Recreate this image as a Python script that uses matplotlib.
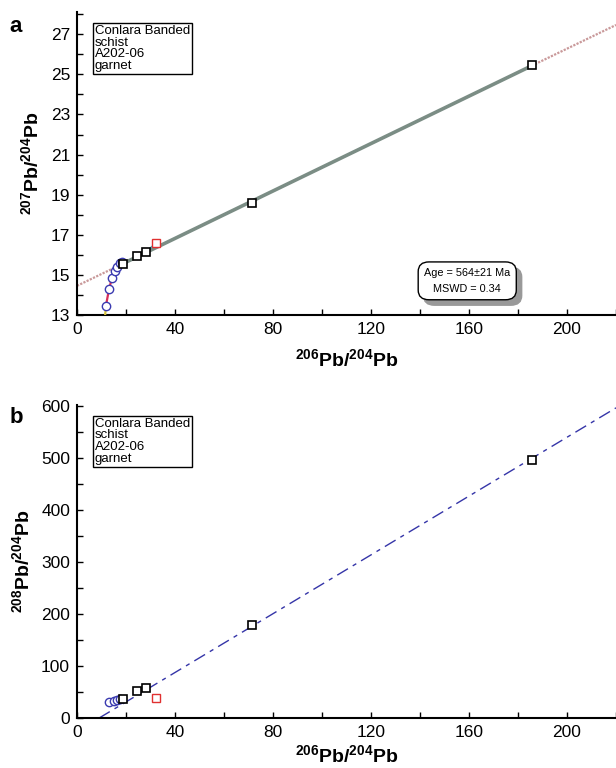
import numpy as np
import matplotlib
matplotlib.use("Agg")
import matplotlib.pyplot as plt
from matplotlib.ticker import MultipleLocator
from matplotlib.patches import FancyBboxPatch

plt.rcParams['font.family'] = ['Liberation Sans', 'DejaVu Sans']
plt.rcParams['mathtext.fontset'] = 'custom'
plt.rcParams['mathtext.rm'] = 'Liberation Sans'
plt.rcParams['mathtext.bf'] = 'Liberation Sans:bold'

# ---------------- data ----------------
# panel a: 207Pb/204Pb vs 206Pb/204Pb
sq_x = [18.8, 24.4, 28.2, 71.3, 185.6]
sq_y_a = [15.55, 15.92, 16.15, 18.60, 25.45]
red_x = [32.2]
red_y_a = [16.58]
circ_x = [11.8, 13.1, 14.3, 15.5, 16.5, 17.6, 18.5]
circ_y_a = [13.45, 14.30, 14.85, 15.18, 15.38, 15.58, 15.66]
tail_x = [11.5, 11.8]
tail_y = [13.0, 13.45]

# panel b: 208Pb/204Pb vs 206Pb/204Pb
sq_y_b = [37, 52, 58, 180, 497]
red_y_b = [38]
circ_x_b = [13.2, 15.2, 16.4, 17.6]
circ_y_b = [31, 33, 35, 37]
line_b_x = [9.0, 220]
line_b_y = [0, 597]

sample_text = "Conlara Banded\nschist\nA202-06\ngarnet"
age_text = "Age = 564\u00b121 Ma\nMSWD = 0.34"

xlabel = r'$\mathbf{^{206}Pb/^{204}Pb}$'
ylabel_a = r'$\mathbf{^{207}Pb/^{204}Pb}$'
ylabel_b = r'$\mathbf{^{208}Pb/^{204}Pb}$'

# ---------------- figure ----------------
fig = plt.figure(figsize=(6.16, 7.68), dpi=100)
axA = fig.add_axes([0.125, 0.590, 0.875, 0.394])
axB = fig.add_axes([0.125, 0.065, 0.875, 0.408])

for ax in (axA, axB):
    for s in ('top', 'right'):
        ax.spines[s].set_visible(False)
    ax.spines['left'].set_linewidth(1.5)
    ax.spines['bottom'].set_linewidth(1.5)
    ax.tick_params(which='both', direction='in', labelsize=12.5)
    ax.tick_params(which='major', length=4, width=1, pad=5)
    ax.tick_params(which='minor', length=4, width=1)
    ax.set_xlim(0, 220)
    ax.xaxis.set_major_locator(MultipleLocator(40))
    ax.xaxis.set_minor_locator(MultipleLocator(20))

axA.set_xlabel(xlabel, fontsize=14, labelpad=8)
axB.set_xlabel(xlabel, fontsize=14, labelpad=3)

# ---- panel a ----
fit = np.polyfit(sq_x, sq_y_a, 1)
xx_in = np.array([sq_x[0], sq_x[-1]])
axA.plot([0, sq_x[0]], np.polyval(fit, [0, sq_x[0]]), color='#c9999a', lw=1.6, ls=(0, (1, 0.6)), zorder=2)
axA.plot([sq_x[-1], 220], np.polyval(fit, [sq_x[-1], 220]), color='#c9999a', lw=1.6, ls=(0, (1, 0.6)), zorder=2)
axA.plot(xx_in, np.polyval(fit, xx_in), color='#7b8d85', lw=2.6, zorder=3)
axA.plot([sq_x[2], red_x[0]], [sq_y_a[2], red_y_a[0]], color='#3fa6b8', lw=1.2, zorder=3)
axA.plot(tail_x, tail_y, color='#d6c23a', lw=1.6, zorder=3)
axA.plot(circ_x, circ_y_a, color='#d8305a', lw=1.6, zorder=3)
axA.plot(circ_x, circ_y_a, 'o', ms=6, mfc='white', mec='#3a3ab0', mew=1.0, zorder=4)
axA.errorbar(sq_x, sq_y_a, xerr=0.8, yerr=0.12, fmt='none', ecolor='#3a3a90', elinewidth=0.8, zorder=4)
axA.plot(sq_x, sq_y_a, 's', ms=6, mfc='white', mec='black', mew=1.2, zorder=5)
axA.plot(red_x, red_y_a, 's', ms=6, mfc='white', mec='#e03030', mew=1.0, zorder=5)

axA.set_ylim(13, 28.1)
axA.yaxis.set_minor_locator(MultipleLocator(1))
axA.set_yticks(np.arange(13, 28, 2))
axA.set_ylabel(ylabel_a, fontsize=14, labelpad=6)

axA.text(0.033, 0.958, sample_text, transform=axA.transAxes, fontsize=9.5,
         va='top', ha='left', linespacing=0.95,
         bbox=dict(boxstyle='square,pad=0.15', fc='white', ec='black', lw=1.0))

# age box with shadow
bx, by, bw, bh = 0.633, 0.050, 0.182, 0.125
shadow = FancyBboxPatch((bx + 0.010, by - 0.018), bw, bh, transform=axA.transAxes,
                        boxstyle='round,pad=0,rounding_size=0.02', fc='#999999', ec='#999999',
                        lw=1.0, zorder=6, clip_on=False, mutation_aspect=1.6)
box = FancyBboxPatch((bx, by), bw, bh, transform=axA.transAxes,
                     boxstyle='round,pad=0,rounding_size=0.02', fc='white', ec='black',
                     lw=1.0, zorder=7, clip_on=False, mutation_aspect=1.6)
axA.add_patch(shadow)
axA.add_patch(box)
axA.text(bx + bw / 2, by + bh / 2, age_text, transform=axA.transAxes, fontsize=7.8,
         va='center', ha='center', linespacing=1.7, zorder=8)

# ---- panel b ----
axB.plot(line_b_x, line_b_y, color='#3535a8', lw=1.0, ls=(0, (9, 4, 3, 4)), zorder=2)
axB.plot(circ_x_b, circ_y_b, 'o', ms=6, mfc='white', mec='#3a3ab0', mew=1.0, zorder=4)
axB.plot(sq_x, sq_y_b, 's', ms=6, mfc='white', mec='black', mew=1.2, zorder=5)
axB.plot(red_x, red_y_b, 's', ms=6, mfc='white', mec='#e03030', mew=1.0, zorder=5)
axB.set_ylim(0, 603)
axB.yaxis.set_major_locator(MultipleLocator(100))
axB.yaxis.set_minor_locator(MultipleLocator(50))
axB.set_ylabel(ylabel_b, fontsize=14, labelpad=6)

axB.text(0.033, 0.958, sample_text, transform=axB.transAxes, fontsize=9.5,
         va='top', ha='left', linespacing=0.95,
         bbox=dict(boxstyle='square,pad=0.15', fc='white', ec='black', lw=1.0))

fig.text(0.015, 0.965, 'a', fontsize=16, fontweight='bold', va='center')
fig.text(0.015, 0.457, 'b', fontsize=16, fontweight='bold', va='center')

fig.savefig('out.png', dpi=100)
